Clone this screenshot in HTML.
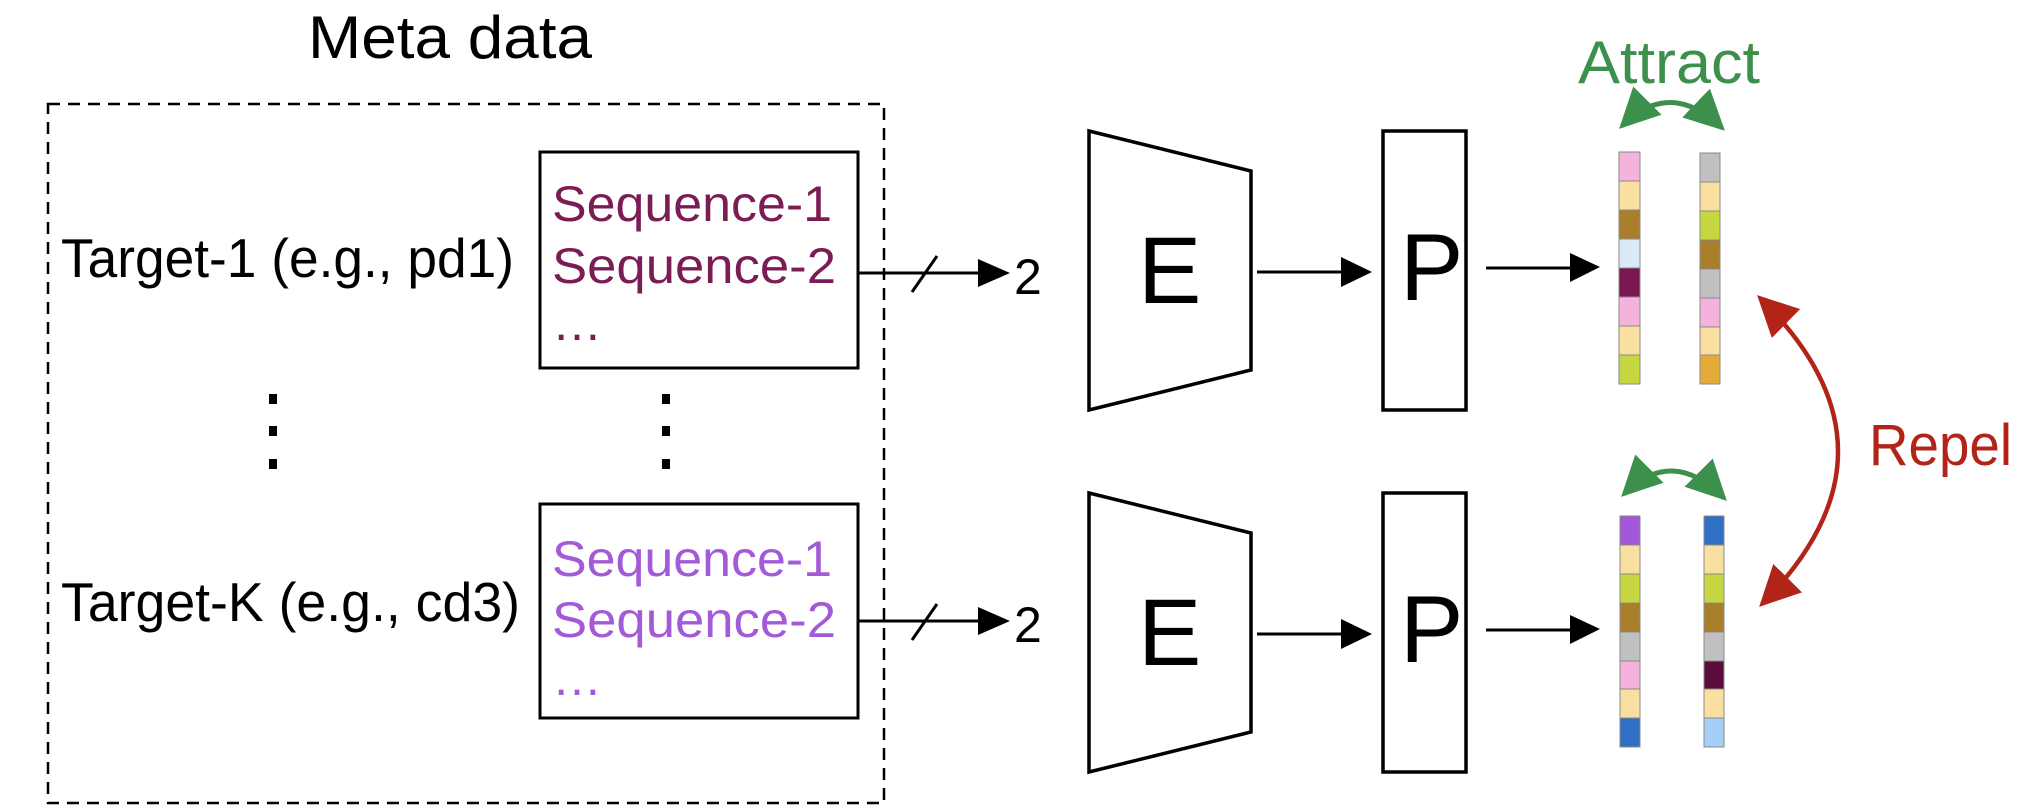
<!DOCTYPE html>
<html><head><meta charset="utf-8"><style>
html,body{margin:0;padding:0;background:#fff;}
svg{display:block;font-family:"Liberation Sans",Arial,sans-serif;}
</style></head><body>
<svg width="2038" height="808" viewBox="0 0 2038 808" xmlns="http://www.w3.org/2000/svg">
<defs>
<marker id="ag" viewBox="0 0 10 10" refX="9" refY="5" markerWidth="8" markerHeight="8" orient="auto-start-reverse"><path d="M0,0L10,5L0,10z" fill="#3d8f4c"/></marker>
<marker id="ar" viewBox="0 0 10 10" refX="9" refY="5" markerWidth="9" markerHeight="9" orient="auto-start-reverse"><path d="M0,0L10,5L0,10z" fill="#b22418"/></marker>
</defs>

<text x="308" y="58" font-size="60" textLength="284" lengthAdjust="spacingAndGlyphs">Meta data</text>
<rect x="48" y="104" width="836" height="699" fill="none" stroke="#000" stroke-width="2.5" stroke-dasharray="12,8"/>

<text x="61" y="277" font-size="55" textLength="453" lengthAdjust="spacingAndGlyphs">Target-1 (e.g., pd1)</text>
<text x="61" y="621" font-size="55" textLength="459" lengthAdjust="spacingAndGlyphs">Target-K (e.g., cd3)</text>

<rect x="540" y="152" width="318" height="216" fill="#fff" stroke="#000" stroke-width="3"/>
<g fill="#7b1c55" font-size="50">
<text x="552" y="221" textLength="280" lengthAdjust="spacingAndGlyphs">Sequence-1</text>
<text x="552" y="283" textLength="284" lengthAdjust="spacingAndGlyphs">Sequence-2</text>
<text x="552" y="340">…</text>
</g>
<rect x="540" y="504" width="318" height="214" fill="#fff" stroke="#000" stroke-width="3"/>
<g fill="#a25ad8" font-size="50">
<text x="552" y="576" textLength="280" lengthAdjust="spacingAndGlyphs">Sequence-1</text>
<text x="552" y="637" textLength="284" lengthAdjust="spacingAndGlyphs">Sequence-2</text>
<text x="552" y="695">…</text>
</g>

<g fill="#000">
<rect x="269" y="394" width="8" height="10"/><rect x="269" y="426" width="8" height="10"/><rect x="269" y="459" width="8" height="10"/>
<rect x="662" y="394" width="8" height="10"/><rect x="662" y="426" width="8" height="10"/><rect x="662" y="459" width="8" height="10"/>
</g>

<g stroke="#000" stroke-width="3">
<line x1="858" y1="273" x2="984" y2="273"/>
<line x1="912" y1="292" x2="937" y2="256"/>
<line x1="858" y1="621" x2="984" y2="621"/>
<line x1="912" y1="640" x2="937" y2="604"/>
</g>
<path d="M978,259L1010,273L978,287z"/><path d="M978,607L1010,621L978,635z"/>
<text x="1014" y="294" font-size="50">2</text>
<text x="1014" y="642" font-size="50">2</text>

<g id="row">
<path d="M1089,131L1251,171L1251,370L1089,410z" fill="#fff" stroke="#000" stroke-width="3.5"/>
<text x="1138" y="303" font-size="95">E</text>
<line x1="1257" y1="272" x2="1345" y2="272" stroke="#000" stroke-width="3"/>
<path d="M1341,257L1372,272L1341,287z"/>
<rect x="1383" y="131" width="83" height="279" fill="#fff" stroke="#000" stroke-width="3.5"/>
<text x="1400" y="300" font-size="95">P</text>
<line x1="1486" y1="268" x2="1575" y2="268" stroke="#000" stroke-width="3"/>
<path d="M1570,253L1600,267L1570,282z"/>
</g>
<use href="#row" transform="translate(0,362)"/>

<g stroke="#8a8a8a" stroke-width="1">
<rect x="1619" y="152" width="21" height="29" fill="#f3b3dc"/>
<rect x="1619" y="181" width="21" height="29" fill="#fae0a0"/>
<rect x="1619" y="210" width="21" height="29" fill="#a97f2c"/>
<rect x="1619" y="239" width="21" height="29" fill="#dbeaf8"/>
<rect x="1619" y="268" width="21" height="29" fill="#7a1651"/>
<rect x="1619" y="297" width="21" height="29" fill="#f3b3dc"/>
<rect x="1619" y="326" width="21" height="29" fill="#fae0a0"/>
<rect x="1619" y="355" width="21" height="29" fill="#c6d641"/>

<rect x="1700" y="153" width="20" height="29" fill="#c0c0c0"/>
<rect x="1700" y="182" width="20" height="29" fill="#fae0a0"/>
<rect x="1700" y="211" width="20" height="29" fill="#c6d641"/>
<rect x="1700" y="240" width="20" height="29" fill="#a97f2c"/>
<rect x="1700" y="269" width="20" height="29" fill="#c0c0c0"/>
<rect x="1700" y="298" width="20" height="29" fill="#f3b3dc"/>
<rect x="1700" y="327" width="20" height="28" fill="#fae0a0"/>
<rect x="1700" y="355" width="20" height="29" fill="#e5ab3a"/>

<rect x="1620" y="516" width="20" height="29" fill="#a257d8"/>
<rect x="1620" y="545" width="20" height="29" fill="#fae0a0"/>
<rect x="1620" y="574" width="20" height="29" fill="#c6d641"/>
<rect x="1620" y="603" width="20" height="29" fill="#a97f2c"/>
<rect x="1620" y="632" width="20" height="29" fill="#c0c0c0"/>
<rect x="1620" y="661" width="20" height="28" fill="#f3b3dc"/>
<rect x="1620" y="689" width="20" height="29" fill="#fae0a0"/>
<rect x="1620" y="718" width="20" height="29" fill="#2f6fc6"/>

<rect x="1704" y="516" width="20" height="29" fill="#2f6fc6"/>
<rect x="1704" y="545" width="20" height="29" fill="#fae0a0"/>
<rect x="1704" y="574" width="20" height="29" fill="#c6d641"/>
<rect x="1704" y="603" width="20" height="29" fill="#a97f2c"/>
<rect x="1704" y="632" width="20" height="29" fill="#c0c0c0"/>
<rect x="1704" y="661" width="20" height="28" fill="#5a0c3c"/>
<rect x="1704" y="689" width="20" height="29" fill="#fae0a0"/>
<rect x="1704" y="718" width="20" height="29" fill="#a6cff8"/>
</g>

<text x="1578" y="83" font-size="60" fill="#3d8f4c" textLength="182" lengthAdjust="spacingAndGlyphs">Attract</text>
<path d="M1622,126 Q1670,78 1722,128" fill="none" stroke="#3d8f4c" stroke-width="5" marker-start="url(#ag)" marker-end="url(#ag)"/>
<path d="M1624,494 Q1672,446 1724,498" fill="none" stroke="#3d8f4c" stroke-width="5" marker-start="url(#ag)" marker-end="url(#ag)"/>

<path d="M1760,298 Q1915,450 1762,604" fill="none" stroke="#b22418" stroke-width="4.5" marker-start="url(#ar)" marker-end="url(#ar)"/>
<text x="1869" y="465" font-size="58" fill="#b22418" textLength="143" lengthAdjust="spacingAndGlyphs">Repel</text>
</svg>
</body></html>
